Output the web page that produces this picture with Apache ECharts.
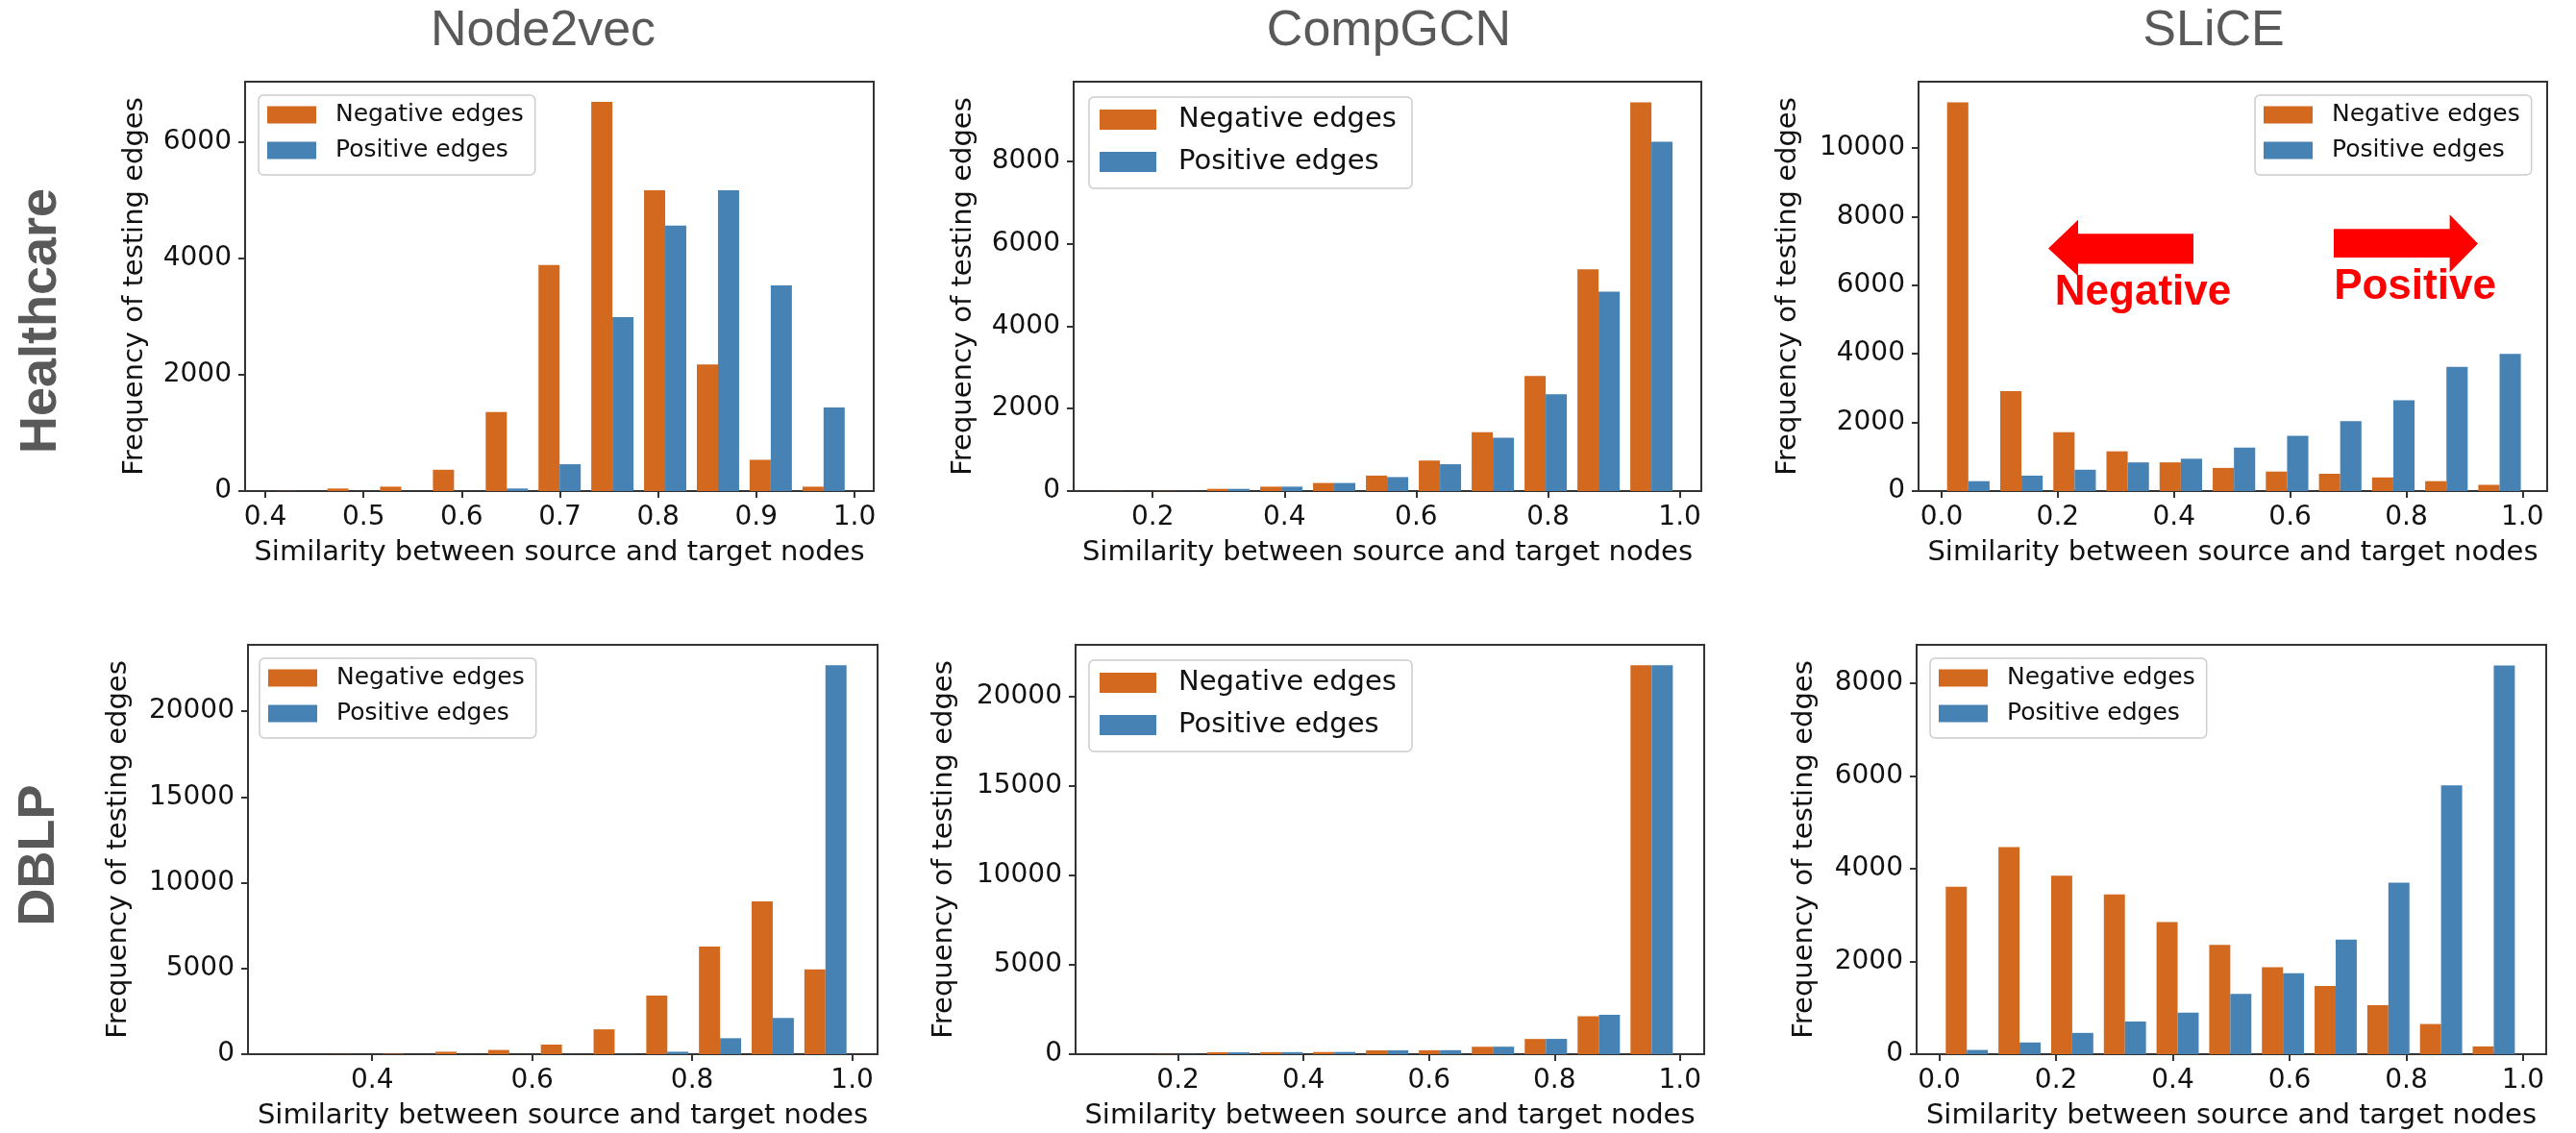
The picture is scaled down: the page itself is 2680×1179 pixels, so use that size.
<!DOCTYPE html>
<html><head><meta charset="utf-8">
<script src="https://cdn.jsdelivr.net/npm/echarts@6/dist/echarts.min.js"></script>
<style>html,body{margin:0;padding:0;background:#fff;}#c{width:2680px;height:1179px;}</style>
</head><body><div id="c"></div>
<script>
// ---------- text ----------
const columnTitles = ['Node2vec', 'CompGCN', 'SLiCE'];
const rowTitles = ['Healthcare', 'DBLP'];
const seriesNames = ['Negative edges', 'Positive edges'];
const xAxisTitle = 'Similarity between source and target nodes';
const yAxisTitle = 'Frequency of testing edges';
const arrowLabels = ['Negative', 'Positive'];

// ---------- Healthcare row ----------
const node2vecHealthcareNeg = [3, 44, 76, 367, 1361, 3892, 6696, 5177, 2177, 538, 76];
const node2vecHealthcarePos = [0, 0, 0, 0, 44, 462, 2994, 4570, 5177, 3538, 1437];
const node2vecHealthcareBinRange = [0.404, 0.9954];
const node2vecHealthcareXRange = [0.3794, 1.0196];
const node2vecHealthcareYMax = 7045;
const node2vecHealthcareXTicks = [0.4, 0.5, 0.6, 0.7, 0.8, 0.9, 1.0];
const node2vecHealthcareYTicks = [0, 2000, 4000, 6000];

const compgcnHealthcareNeg = [2, 5, 54, 107, 196, 375, 740, 1427, 2792, 5378, 9428];
const compgcnHealthcarePos = [0, 3, 54, 107, 196, 339, 651, 1293, 2346, 4834, 8474];
const compgcnHealthcareBinRange = [0.1145, 0.9971];
const compgcnHealthcareXRange = [0.0801, 1.0327];
const compgcnHealthcareYMax = 9930;
const compgcnHealthcareXTicks = [0.2, 0.4, 0.6, 0.8, 1.0];
const compgcnHealthcareYTicks = [0, 2000, 4000, 6000, 8000];

const sliceHealthcareNeg = [11329, 2915, 1715, 1158, 836, 675, 568, 504, 397, 289, 182];
const sliceHealthcarePos = [289, 450, 622, 836, 943, 1265, 1608, 2036, 2647, 3623, 3998];
const sliceHealthcareBinRange = [0.0003, 1.0063];
const sliceHealthcareXRange = [-0.0397, 1.0425];
const sliceHealthcareYMax = 11933;
const sliceHealthcareXTicks = [0.0, 0.2, 0.4, 0.6, 0.8, 1.0];
const sliceHealthcareYTicks = [0, 2000, 4000, 6000, 8000, 10000];

// ---------- DBLP row ----------
const node2vecDblpNeg = [3, 8, 25, 145, 248, 559, 1449, 3416, 6273, 8903, 4948];
const node2vecDblpPos = [0, 0, 0, 0, 0, 5, 10, 145, 932, 2112, 22671];
const node2vecDblpBinRange = [0.2749, 0.9995];
const node2vecDblpXRange = [0.2448, 1.0317];
const node2vecDblpYMax = 23866;
const node2vecDblpXTicks = [0.4, 0.6, 0.8, 1.0];
const node2vecDblpYTicks = [0, 5000, 10000, 15000, 20000];

const compgcnDblpNeg = [2, 10, 110, 115, 120, 215, 220, 415, 850, 2120, 21730];
const compgcnDblpPos = [0, 8, 105, 115, 125, 220, 225, 420, 855, 2200, 21730];
const compgcnDblpBinRange = [0.0697, 0.997];
const compgcnDblpXRange = [0.0367, 1.0386];
const compgcnDblpYMax = 22872;
const compgcnDblpXTicks = [0.2, 0.4, 0.6, 0.8, 1.0];
const compgcnDblpYTicks = [0, 5000, 10000, 15000, 20000];

const sliceDblpNeg = [3613, 4463, 3851, 3445, 2848, 2358, 1876, 1470, 1057, 651, 168];
const sliceDblpPos = [92, 253, 459, 704, 895, 1301, 1745, 2473, 3697, 5795, 8382];
const sliceDblpBinRange = [0.002, 0.995];
const sliceDblpXRange = [-0.0389, 1.0397];
const sliceDblpYMax = 8827;
const sliceDblpXTicks = [0.0, 0.2, 0.4, 0.6, 0.8, 1.0];
const sliceDblpYTicks = [0, 2000, 4000, 6000, 8000];

// ---------- styling ----------
const NEG_COLOR = '#D2691E';
const POS_COLOR = '#4682B4';
const TICK_FONT = 'DejaVu Sans';
const TEXT_COLOR = '#111111';
const TITLE_GRAY = '#595959';

const panels = [
  { neg: node2vecHealthcareNeg, pos: node2vecHealthcarePos, bins: node2vecHealthcareBinRange, xr: node2vecHealthcareXRange, ymax: node2vecHealthcareYMax, xt: node2vecHealthcareXTicks, yt: node2vecHealthcareYTicks,
    grid: { left: 255, top: 85, width: 654, height: 426 }, yGap: 100, legend: { left: 269, top: 99, big: false } },
  { neg: compgcnHealthcareNeg, pos: compgcnHealthcarePos, bins: compgcnHealthcareBinRange, xr: compgcnHealthcareXRange, ymax: compgcnHealthcareYMax, xt: compgcnHealthcareXTicks, yt: compgcnHealthcareYTicks,
    grid: { left: 1117, top: 85, width: 653, height: 426 }, yGap: 100, legend: { left: 1133, top: 101, big: true } },
  { neg: sliceHealthcareNeg, pos: sliceHealthcarePos, bins: sliceHealthcareBinRange, xr: sliceHealthcareXRange, ymax: sliceHealthcareYMax, xt: sliceHealthcareXTicks, yt: sliceHealthcareYTicks,
    grid: { left: 1996, top: 85, width: 654, height: 426 }, yGap: 121, legend: { left: 2346, top: 99, big: false } },
  { neg: node2vecDblpNeg, pos: node2vecDblpPos, bins: node2vecDblpBinRange, xr: node2vecDblpXRange, ymax: node2vecDblpYMax, xt: node2vecDblpXTicks, yt: node2vecDblpYTicks,
    grid: { left: 258, top: 671, width: 655, height: 426 }, yGap: 120, legend: { left: 270, top: 685, big: false } },
  { neg: compgcnDblpNeg, pos: compgcnDblpPos, bins: compgcnDblpBinRange, xr: compgcnDblpXRange, ymax: compgcnDblpYMax, xt: compgcnDblpXTicks, yt: compgcnDblpYTicks,
    grid: { left: 1119, top: 671, width: 654, height: 426 }, yGap: 122, legend: { left: 1133, top: 687, big: true } },
  { neg: sliceDblpNeg, pos: sliceDblpPos, bins: sliceDblpBinRange, xr: sliceDblpXRange, ymax: sliceDblpYMax, xt: sliceDblpXTicks, yt: sliceDblpYTicks,
    grid: { left: 1994, top: 671, width: 655, height: 426 }, yGap: 102, legend: { left: 2008, top: 685, big: false } }
];

function makeRender(lo, hi, n, side) {
  const w = (hi - lo) / n;
  return function (params, api) {
    const c = api.value(0);
    const v = api.value(1);
    const x0 = side === 0 ? c - 0.4 * w : c;
    const x1 = x0 + 0.4 * w;
    const p0 = api.coord([x0, v]);
    const p1 = api.coord([x1, 0]);
    return { type: 'rect', shape: { x: p0[0], y: p0[1], width: p1[0] - p0[0], height: p1[1] - p0[1] },
             style: { fill: api.visual('color') } };
  };
}

const grids = [], xAxes = [], yAxes = [], series = [], legends = [];
panels.forEach((p, k) => {
  grids.push(Object.assign({ show: true, borderColor: '#333', borderWidth: 2, backgroundColor: 'transparent' }, p.grid));
  xAxes.push({
    type: 'value', gridIndex: k, min: p.xr[0], max: p.xr[1], position: 'bottom',
    name: xAxisTitle, nameLocation: 'middle', nameGap: 50,
    nameTextStyle: { fontFamily: TICK_FONT, fontSize: 29, color: TEXT_COLOR },
    axisLine: { show: false, onZero: false }, splitLine: { show: false }, minorTick: { show: false },
    axisTick: { show: true, length: 7, lineStyle: { color: '#333', width: 2 }, customValues: p.xt },
    axisLabel: { margin: 14, fontFamily: TICK_FONT, fontSize: 28, color: TEXT_COLOR, customValues: p.xt,
                 formatter: v => Number(v).toFixed(1) }
  });
  yAxes.push({
    type: 'value', gridIndex: k, min: 0, max: p.ymax, position: 'left',
    name: yAxisTitle, nameLocation: 'middle', nameGap: p.yGap,
    nameTextStyle: { fontFamily: TICK_FONT, fontSize: 29, color: TEXT_COLOR },
    axisLine: { show: false, onZero: false }, splitLine: { show: false }, minorTick: { show: false },
    axisTick: { show: true, length: 7, lineStyle: { color: '#333', width: 2 }, customValues: p.yt },
    axisLabel: { margin: 14, fontFamily: TICK_FONT, fontSize: 28, color: TEXT_COLOR, customValues: p.yt,
                 formatter: v => String(Math.round(v)) }
  });
  const n = p.neg.length;
  const w = (p.bins[1] - p.bins[0]) / n;
  const centers = p.neg.map((_, i) => p.bins[0] + (i + 0.5) * w);
  [p.neg, p.pos].forEach((vals, side) => {
    series.push({
      type: 'custom', name: seriesNames[side], xAxisIndex: k, yAxisIndex: k,
      itemStyle: { color: side === 0 ? NEG_COLOR : POS_COLOR },
      renderItem: makeRender(p.bins[0], p.bins[1], n, side),
      encode: { x: 0, y: 1 },
      data: vals.map((v, i) => [centers[i], v]),
      silent: true
    });
  });
  const big = p.legend.big;
  legends.push({
    orient: 'vertical', left: p.legend.left, top: p.legend.top,
    data: seriesNames, icon: 'rect', selectedMode: false,
    itemWidth: big ? 59 : 51, itemHeight: big ? 21 : 18, itemGap: big ? 15 : 12,
    padding: big ? [9, 16, 13, 11] : [8, 12, 13, 9],
    backgroundColor: 'rgba(255,255,255,0.8)', borderColor: '#cccccc', borderWidth: 1.5, borderRadius: 5,
    textStyle: { fontFamily: TICK_FONT, fontSize: big ? 29 : 25, color: TEXT_COLOR, padding: [0, 0, 0, big ? 18 : 15] }
  });
});

const colCenters = [565, 1445, 2303];
const graphics = [];
columnTitles.forEach((t, i) => graphics.push({
  type: 'text', x: colCenters[i], y: 33,
  style: { text: t, fontFamily: 'Liberation Sans', fontSize: 52, fill: TITLE_GRAY, align: 'center', verticalAlign: 'middle' }
}));
const rowCenters = [[43.5, 334], [41, 890]];
rowTitles.forEach((t, i) => graphics.push({
  type: 'text', x: rowCenters[i][0], y: rowCenters[i][1], rotation: Math.PI / 2,
  style: { text: t, fontFamily: 'Liberation Sans', fontWeight: 'bold', fontSize: 54, fill: TITLE_GRAY, align: 'center', verticalAlign: 'middle' }
}));
// red annotation arrows (SLiCE / Healthcare)
graphics.push({ type: 'polygon', shape: { points: [[2131, 258.5], [2162, 228.7], [2162, 243.2], [2282, 243.2], [2282, 274.6], [2162, 274.6], [2162, 287.3]] }, style: { fill: '#FF0000' } });
graphics.push({ type: 'polygon', shape: { points: [[2428, 238.2], [2548.6, 238.2], [2548.6, 223.3], [2578, 253.5], [2548.6, 283.4], [2548.6, 268.1], [2428, 268.1]] }, style: { fill: '#FF0000' } });
graphics.push({ type: 'text', x: 2229.5, y: 304.5, style: { text: arrowLabels[0], fontFamily: 'Liberation Sans', fontWeight: 'bold', fontSize: 44, fill: '#FF0000', align: 'center', verticalAlign: 'middle' } });
graphics.push({ type: 'text', x: 2512.5, y: 298.7, style: { text: arrowLabels[1], fontFamily: 'Liberation Sans', fontWeight: 'bold', fontSize: 44, fill: '#FF0000', align: 'center', verticalAlign: 'middle' } });

const chart = echarts.init(document.getElementById('c'), null, { renderer: 'canvas' });
chart.setOption({
  animation: false,
  backgroundColor: '#ffffff',
  grid: grids, xAxis: xAxes, yAxis: yAxes, series: series, legend: legends,
  graphic: graphics
});
</script></body></html>
